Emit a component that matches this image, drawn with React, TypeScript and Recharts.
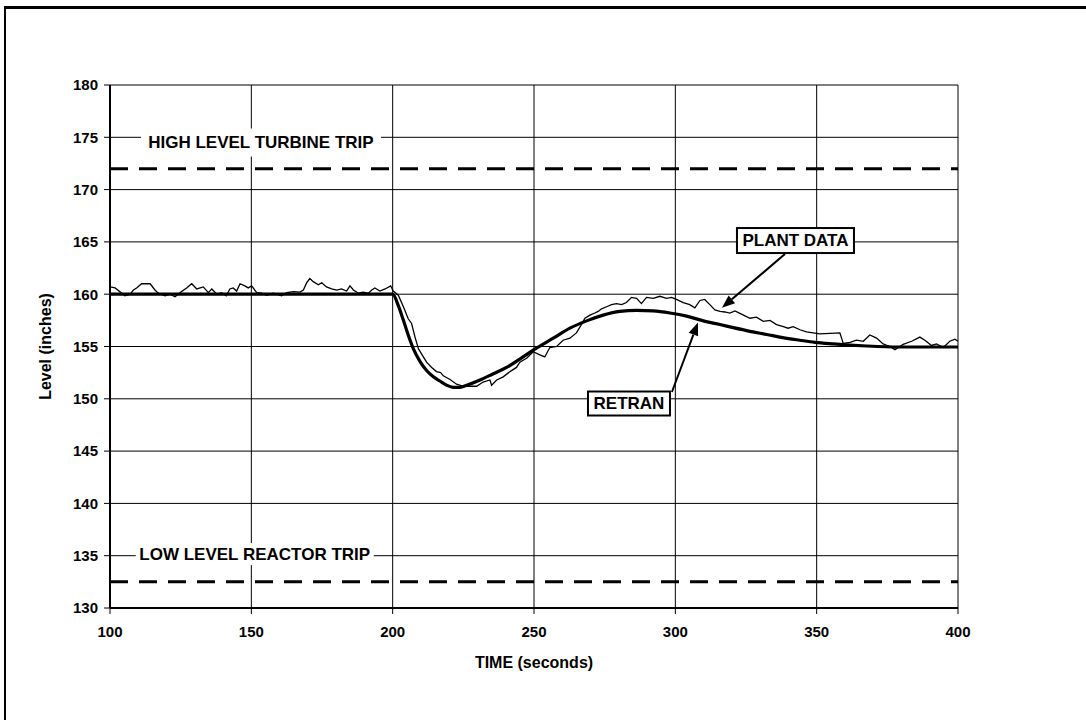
import React from 'react';
import {
  LineChart,
  Line,
  XAxis,
  YAxis,
  CartesianGrid,
  ReferenceLine,
  ReferenceDot,
} from 'recharts';

// plant data (thin noisy trace)
const plantTime = [
  100, 101.8, 105.3, 107.1, 108.3, 109.4, 111.2, 113, 114.2, 115.9, 117.1, 119.5, 121.2, 123, 124.8,
  127.1, 128.9, 130.7, 133, 134.8, 136, 137.8, 139.5, 141.1, 142.4, 143.6, 144.8, 146, 147.7, 148.9,
  150.1, 151.9, 153.6, 155.4, 157.8, 160.7, 162.5, 164.8, 167.2, 168.4, 169.6, 170.7, 171.9, 173.7,
  174.9, 176.6, 178.4, 180.2, 181.9, 183.7, 184.9, 186.1, 187.8, 189.6, 191.4, 192.6, 193.7, 195.5,
  197.3, 199.3, 200.2, 202, 203.8, 205.5, 206.7, 207.9, 209.1, 210.2, 212, 213.8, 215.5, 217, 217.9,
  220.3, 222.6, 225, 227.3, 229.7, 232, 234.4, 235, 236.8, 239.1, 241.5, 243.8, 245, 247.5, 249.7,
  252.1, 253.8, 255.6, 258, 260.3, 262.7, 265, 266.8, 268, 269.8, 271.5, 272.7, 273.9, 275.7, 277.4,
  279.2, 281, 282.7, 284.5, 286.3, 288, 289.8, 292.2, 294.5, 296.9, 298.7, 300.4, 302.8, 305.1, 306.9,
  308.7, 310.4, 312.2, 314, 315.8, 317.5, 319.3, 321.1, 323.4, 326.4, 328.7, 331.1, 333.5, 335.8,
  338.2, 339.9, 341.7, 344.1, 346.4, 348.8, 351.1, 354.7, 358.2, 359.4, 361.8, 364.1, 366.5, 368.8,
  371.2, 373.5, 375.9, 377.7, 380.6, 383.6, 386.5, 388.3, 390.6, 392.4, 394.8, 397.1, 398.9, 400,
];
const plantLevel = [
  160.7, 160.6, 159.85, 160, 160.4, 160.6, 161, 161, 161, 160.4, 160.1, 159.85, 160, 159.75, 160.15,
  160.6, 161, 160.5, 160.7, 160.15, 160.5, 160, 160.15, 159.85, 160.5, 160.6, 160.3, 161, 160.8, 160.6,
  160.8, 160.15, 160.1, 159.9, 160.1, 159.85, 160.15, 160.25, 160.2, 160.4, 161.1, 161.5, 161.2, 160.9,
  161.1, 160.7, 160.5, 160.4, 160.5, 160.3, 160.8, 160.4, 160.1, 160.2, 160.1, 160.4, 160.6, 160.3,
  160.5, 160.8, 160.3, 159.9, 158.8, 157.65, 157.2, 155.9, 154.8, 154.3, 153.5, 153, 152.6, 152.5, 152.2,
  151.85, 151.4, 151.2, 151.2, 151.2, 151.6, 151.8, 151.3, 151.8, 152.1, 152.6, 153, 153.5, 153.9, 154.5,
  154.2, 154, 154.9, 155, 155.6, 155.8, 156.3, 157.1, 157.7, 158, 158.2, 158.35, 158.6, 158.8, 159,
  159.1, 159, 159.2, 159.7, 159.6, 159.1, 159.7, 159.6, 159.8, 159.6, 159.7, 159.5, 159.2, 159, 158.7,
  159.4, 159.5, 159, 158.5, 158.35, 158.3, 158.2, 158.4, 158.1, 157.7, 157.8, 157.4, 157.5, 157.1,
  156.9, 156.75, 156.9, 156.6, 156.4, 156.3, 156.2, 156.25, 156.3, 155.3, 155.4, 155.6, 155.5, 156.1,
  155.8, 155.25, 155, 154.7, 155.2, 155.5, 155.9, 155.6, 155.1, 155.25, 154.9, 155.5, 155.7, 155.5,
];

// RETRAN prediction (thick smooth line)
const retranTime = [
  100, 150, 199, 200, 202, 203.8, 205.5, 207.3, 209.6, 212, 214.4, 216.7, 219.1, 221.4, 223.8, 226.2,
  230.9, 235.6, 240.3, 245, 250, 256.8, 262.7, 268.6, 274.5, 280.4, 286.3, 292.2, 298.1, 304, 309.9,
  315.8, 320.5, 326.4, 332.3, 338, 344.1, 349.4, 355.9, 367.7, 379.4, 400,
];
const retranLevel = [
  160, 160, 160, 160, 158.9, 157.5, 156.1, 154.8, 153.6, 152.7, 152.1, 151.7, 151.3, 151.1, 151.1, 151.3,
  151.8, 152.4, 153, 153.8, 154.7, 155.8, 156.75, 157.45, 158, 158.35, 158.45, 158.4, 158.2, 157.9, 157.45,
  157.1, 156.8, 156.45, 156.15, 155.85, 155.6, 155.4, 155.25, 155.05, 154.95, 154.95,
];

const xTicks = [100, 150, 200, 250, 300, 350, 400];
const yTicks = [130, 135, 140, 145, 150, 155, 160, 165, 170, 175, 180];

const highTrip = 172;
const lowTrip = 132.5;

const plantData = plantTime.map((t, i) => ({ t, v: plantLevel[i] }));
const retranData = retranTime.map((t, i) => ({ t, v: retranLevel[i] }));

const FONT = '"Liberation Sans", Arial, Helvetica, sans-serif';

const boxText = (text: string, w: number, h: number, border: boolean) => (props: any) => {
  const vb = props.viewBox || {};
  const cx = vb.x + (vb.width || 0) / 2;
  const cy = vb.y + (vb.height || 0) / 2;
  return (
    <g>
      <rect
        x={cx - w / 2}
        y={cy - h / 2}
        width={w}
        height={h}
        fill="#fff"
        stroke={border ? '#000' : 'none'}
        strokeWidth={2}
      />
      <text
        x={cx}
        y={cy}
        textAnchor="middle"
        dominantBaseline="central"
        fontFamily={FONT}
        fontWeight="bold"
        fontSize={17}
        fill="#000"
      >
        {text}
      </text>
    </g>
  );
};

const Arrow = (props: any) => {
  const { x1, y1, x2, y2 } = props;
  const a = Math.atan2(y2 - y1, x2 - x1);
  const len = 13;
  const w = 5;
  const bx = x2 - len * Math.cos(a);
  const by = y2 - len * Math.sin(a);
  const px = -Math.sin(a) * w;
  const py = Math.cos(a) * w;
  return (
    <g>
      <line x1={x1} y1={y1} x2={bx} y2={by} stroke="#000" strokeWidth={2} />
      <polygon points={`${x2},${y2} ${bx + px},${by + py} ${bx - px},${by - py}`} fill="#000" />
    </g>
  );
};

const App: React.FC = () => {
  return (
    <div style={{ position: 'absolute', left: 0, top: 0, width: 1086, height: 720, background: '#fff' }}>
      {/* page frame */}
      <div style={{ position: 'absolute', left: 4, top: 6, width: 1082, height: 3, background: '#000' }} />
      <div style={{ position: 'absolute', left: 4, top: 6, width: 2, height: 714, background: '#000' }} />
      <LineChart
        width={1086}
        height={720}
        margin={{ top: 85, right: 128, bottom: 72, left: 50 }}
        style={{ position: 'absolute', left: 0, top: 0 }}
      >
        <CartesianGrid stroke="#000" strokeWidth={1} />
        <XAxis
          type="number"
          dataKey="t"
          domain={[100, 400]}
          ticks={xTicks}
          allowDataOverflow
          height={40}
          tickSize={6}
          tickMargin={12}
          axisLine={{ stroke: '#000', strokeWidth: 2 }}
          tickLine={{ stroke: '#000', strokeWidth: 1 }}
          tick={{ fill: '#000', fontSize: 15, fontFamily: FONT, fontWeight: 'bold' }}
          label={{
            content: (p: any) => (
              <text
                x={p.viewBox.x + p.viewBox.width / 2}
                y={662}
                textAnchor="middle"
                dominantBaseline="central"
                fontFamily={FONT}
                fontWeight="bold"
                fontSize={16}
                fill="#000"
              >
                TIME (seconds)
              </text>
            ),
          }}
        />
        <YAxis
          type="number"
          domain={[130, 180]}
          ticks={yTicks}
          allowDataOverflow
          width={60}
          tickSize={6}
          tickMargin={6}
          axisLine={{ stroke: '#000', strokeWidth: 2 }}
          tickLine={{ stroke: '#000', strokeWidth: 1 }}
          tick={{ fill: '#000', fontSize: 15, fontFamily: FONT, fontWeight: 'bold' }}
          label={{
            content: (p: any) => {
              const cy = p.viewBox.y + p.viewBox.height / 2;
              return (
                <text
                  x={45}
                  y={cy}
                  transform={`rotate(-90 45 ${cy})`}
                  textAnchor="middle"
                  dominantBaseline="central"
                  fontFamily={FONT}
                  fontWeight="bold"
                  fontSize={16}
                  fill="#000"
                >
                  Level (inches)
                </text>
              );
            },
          }}
        />
        <ReferenceLine y={highTrip} stroke="#000" strokeWidth={3} strokeDasharray="18 11" />
        <ReferenceLine y={lowTrip} stroke="#000" strokeWidth={3} strokeDasharray="18 11" />
        <ReferenceDot
          x={153.4}
          y={174.5}
          r={1}
          fill="none"
          stroke="none"
          label={{ content: boxText('HIGH LEVEL TURBINE TRIP', 240, 28, false) }}
        />
        <ReferenceDot
          x={151.2}
          y={135.15}
          r={1}
          fill="none"
          stroke="none"
          label={{ content: boxText('LOW LEVEL REACTOR TRIP', 238, 22, false) }}
        />
        <Line
          data={plantData}
          dataKey="v"
          type="linear"
          stroke="#000"
          strokeWidth={1.3}
          dot={false}
          isAnimationActive={false}
        />
        <Line
          data={retranData}
          dataKey="v"
          type="monotone"
          stroke="#000"
          strokeWidth={3.2}
          dot={false}
          isAnimationActive={false}
        />
        <ReferenceLine
          segment={[
            { x: 338.8, y: 163.85 },
            { x: 316.5, y: 158.7 },
          ]}
          shape={<Arrow />}
        />
        <ReferenceLine
          segment={[
            { x: 298.8, y: 150.65 },
            { x: 308.0, y: 157.3 },
          ]}
          shape={<Arrow />}
        />
        <ReferenceDot
          x={342.5}
          y={165.13}
          r={1}
          fill="none"
          stroke="none"
          label={{ content: boxText('PLANT DATA', 117, 25, true) }}
        />
        <ReferenceDot
          x={283.6}
          y={149.55}
          r={1}
          fill="none"
          stroke="none"
          label={{ content: boxText('RETRAN', 82, 24, true) }}
        />
      </LineChart>
    </div>
  );
};

export default App;
